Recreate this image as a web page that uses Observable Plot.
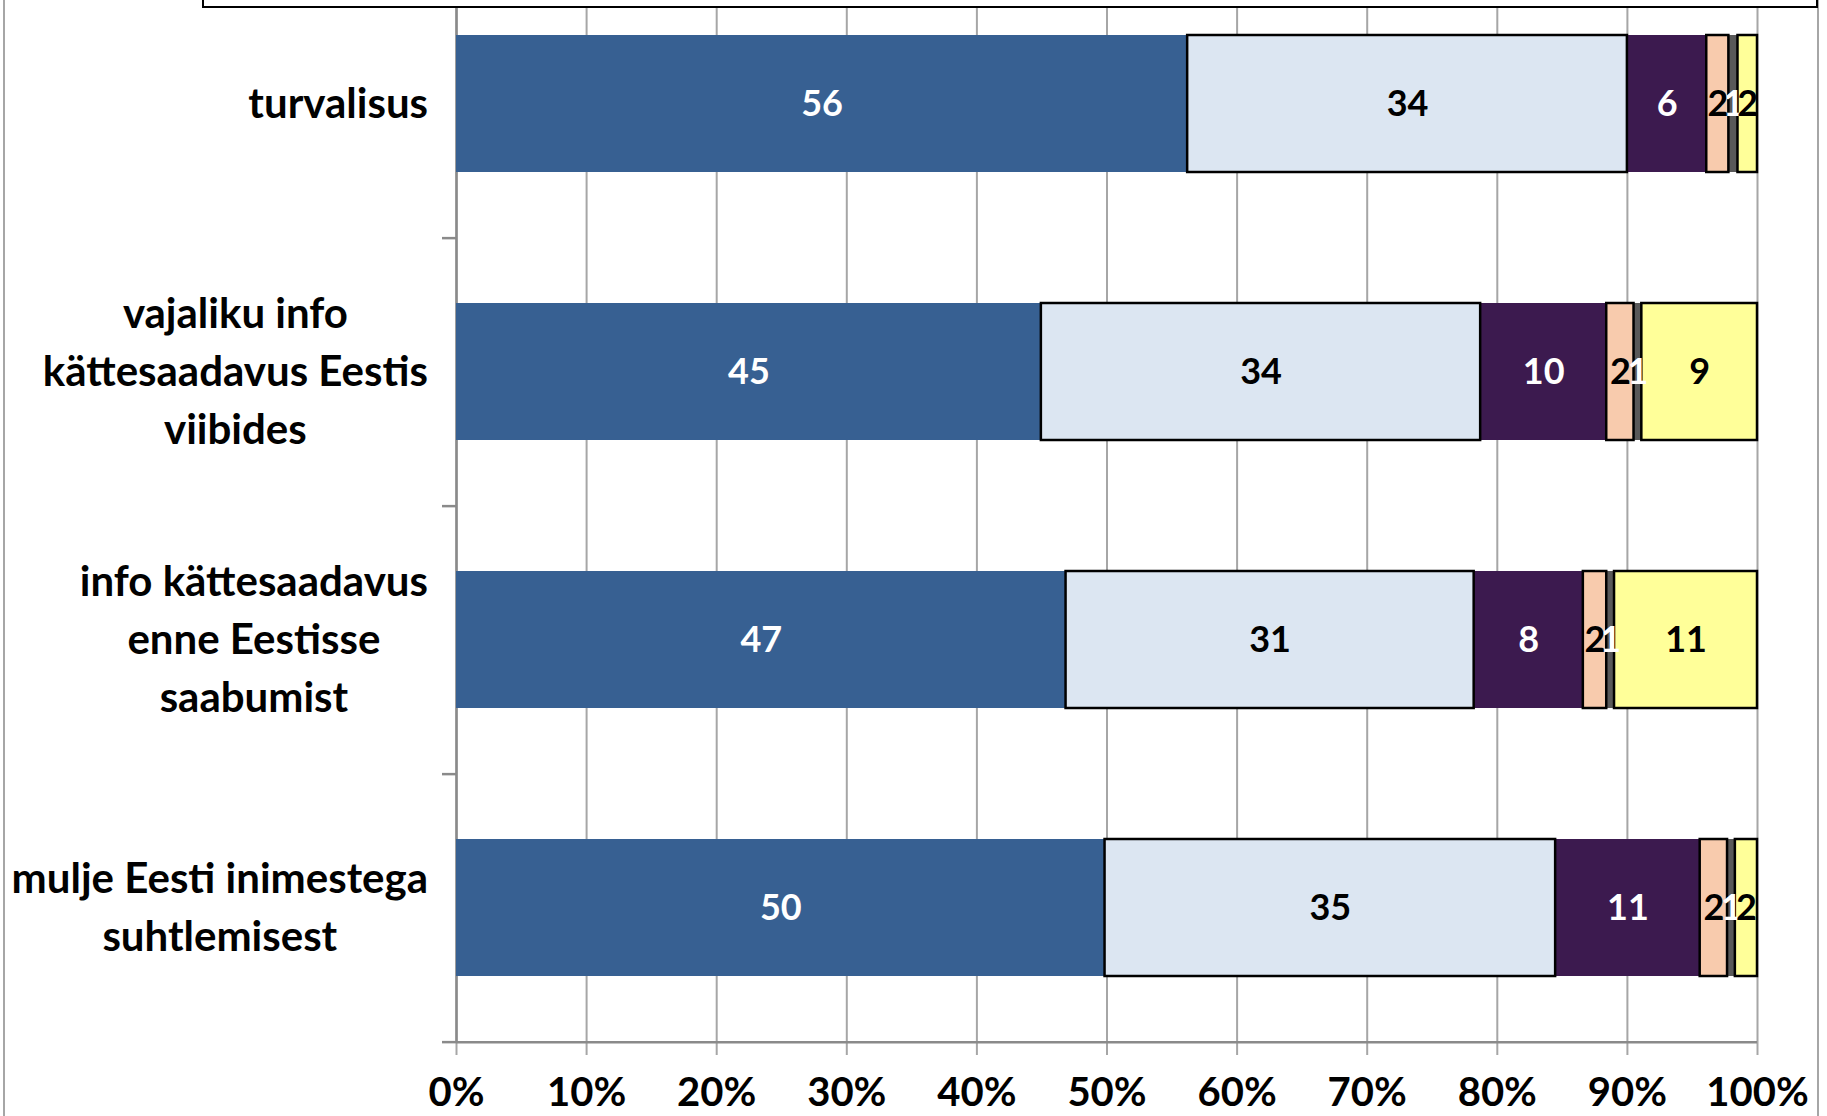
<!DOCTYPE html>
<html>
<head>
<meta charset="utf-8">
<script src="https://cdn.jsdelivr.net/npm/d3@7"></script>
<script src="https://cdn.jsdelivr.net/npm/@observablehq/plot@0.6"></script>
<style>
  html, body { margin: 0; padding: 0; background: #fff; }
  #wrap { position: relative; width: 1827px; height: 1116px; overflow: hidden; background: #fff; }
  #wrap svg { position: absolute; left: 0; top: 0; }
  #chartborder { position: absolute; left: 3px; top: -5px; width: 1812px; height: 1130px;
    border-left: 2px solid #a6a6a6; border-right: 2px solid #a6a6a6; }
  #legendbox { position: absolute; left: 202px; top: -20px; width: 1612px; height: 24px;
    border: 2.5px solid #000; background: #fff; }
</style>
</head>
<body>
<div id="wrap"><div id="chartborder"></div><div id="legendbox"></div></div>
<script>
// ---- data ----
const categories = [
  "turvalisus",
  "vajaliku info\nkättesaadavus Eestis\nviibides",
  "info kättesaadavus\nenne Eestisse\nsaabumist",
  "mulje Eesti inimestega\nsuhtlemisest"
];
const seriesKeys = ["s1", "s2", "s3", "s4", "s5", "s6"];
const seriesColors = ["#376092", "#dce6f2", "#3c1a4f", "#f8cbad", "#595959", "#ffff99"];
const s1 = [56.2, 45.0, 46.9, 49.8];
const s2 = [33.8, 33.8, 31.4, 34.6];
const s3 = [6.1, 9.7, 8.4, 11.1];
const s4 = [1.7, 2.1, 1.8, 2.1];
const s5 = [0.7, 0.6, 0.6, 0.6];
const s6 = [1.5, 8.9, 11.0, 1.7];
const xTicks = [0, 0.1, 0.2, 0.3, 0.4, 0.5, 0.6, 0.7, 0.8, 0.9, 1];
const outlinedSeries = ["s2", "s4", "s6"];
const whiteLabelSeries = ["s1", "s3", "s5"];

const seriesValues = [s1, s2, s3, s4, s5, s6];
const rows = categories.flatMap((c, i) =>
  seriesKeys.map((k, j) => ({category: c, series: k, value: seriesValues[j][i]})));

const W = 1827, H = 1116;
const mL = 456, mR = 70, mB = 74, mT = 0;
const yRange = [-31, H - mB];
const step = (yRange[1] - yRange[0]) / categories.length;
const LABEL_FILL = "#010101";

const stackOpts = (extra) => Plot.stackX({offset: "normalize", x: "value", y: "category", z: "series", ...extra});

const svg = Plot.plot({
  width: W, height: H,
  marginTop: mT, marginBottom: mB, marginLeft: mL, marginRight: mR,
  style: {fontFamily: "Lato, 'Open Sans', sans-serif", background: "transparent", color: "#000", overflow: "visible"},
  x: {domain: [0, 1]},
  y: {domain: categories, range: yRange, paddingInner: 0.487, paddingOuter: 0.2435},
  color: {domain: seriesKeys, range: seriesColors},
  opacity: {domain: [0, 1], range: [0, 1]},
  marks: [
    Plot.gridX({ticks: xTicks, stroke: "#a6a6a6", strokeOpacity: 1, strokeWidth: 2}),
    Plot.axisX({ticks: xTicks, tickFormat: d3.format(".0%"), tickSize: 13, tickPadding: 22,
      fontSize: 40, fontWeight: "bold", stroke: "#a6a6a6", strokeWidth: 2, fill: "#000", label: null}),
    Plot.axisY({tickSize: 14, dy: step / 2, tickFormat: () => "", stroke: "#8a8a8a", strokeWidth: 2.5, label: null}),
    Plot.ruleX([0], {stroke: "#8a8a8a", strokeWidth: 2.5}),
    Plot.ruleY([categories[categories.length - 1]], {stroke: "#8a8a8a", strokeWidth: 2.5, dy: step / 2}),
    Plot.barX(rows, stackOpts({fill: "series"})),
    Plot.barX(rows, stackOpts({fill: "none", stroke: "#000", strokeWidth: 2.5,
      strokeOpacity: d => outlinedSeries.includes(d.series) ? 1 : 0})),
    Plot.text(rows, stackOpts({text: d => whiteLabelSeries.includes(d.series) ? String(Math.round(d.value)) : "",
      fill: "#fff", fontSize: 36, fontWeight: "bold"})),
    Plot.text(rows, stackOpts({text: d => whiteLabelSeries.includes(d.series) ? "" : String(Math.round(d.value)),
      fill: "#000", fontSize: 36, fontWeight: "bold"})),
    Plot.text(categories, {y: d => d, text: d => d, frameAnchor: "left", textAnchor: "middle",
      lineAnchor: "middle", fontSize: 42, fontWeight: "bold", lineHeight: 1.38, dy: -5, fill: LABEL_FILL})
  ]
});

const wrap = document.getElementById("wrap");
wrap.insertBefore(svg, wrap.firstChild);

// right-align each centred label block to the label column edge
const labelRight = 428;
function alignLabels() {
  const svgRect = svg.getBoundingClientRect();
  svg.querySelectorAll(`g[fill="${LABEL_FILL}"] text`).forEach(el => {
    const base = el.getAttribute("data-base-transform") ?? (el.getAttribute("transform") || "");
    el.setAttribute("data-base-transform", base);
    el.setAttribute("transform", base);
    const r = el.getBoundingClientRect();
    const shift = labelRight - (r.right - svgRect.left);
    el.setAttribute("transform", base + ` translate(${shift.toFixed(1)},0)`);
  });
}
alignLabels();
if (document.fonts && document.fonts.ready) document.fonts.ready.then(alignLabels);
</script>
</body>
</html>
